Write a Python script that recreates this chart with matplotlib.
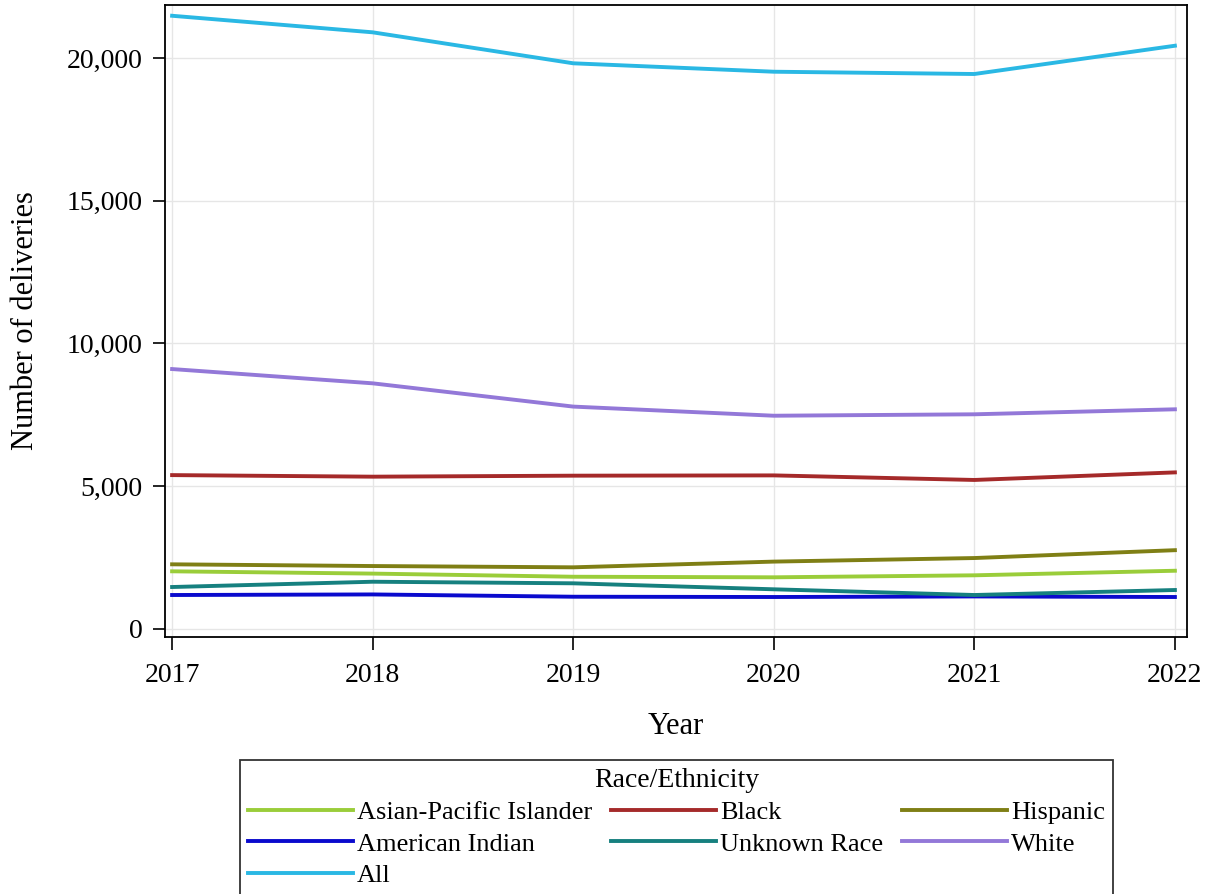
import matplotlib
matplotlib.use("Agg")
import matplotlib.pyplot as plt
from matplotlib.ticker import FuncFormatter

years = [2017, 2018, 2019, 2020, 2021, 2022]

asian_pacific = [2020, 1940, 1830, 1810, 1880, 2040]
black = [5390, 5335, 5370, 5380, 5220, 5485]
hispanic = [2265, 2205, 2160, 2360, 2485, 2760]
american_indian = [1190, 1210, 1130, 1120, 1140, 1120]
unknown_race = [1470, 1655, 1600, 1390, 1190, 1365]
white = [9105, 8605, 7790, 7470, 7520, 7695]
all_races = [21480, 20900, 19815, 19520, 19440, 20430]

series = [
    ("Asian-Pacific Islander", asian_pacific, "#9acd3a"),
    ("Black", black, "#a52a2a"),
    ("Hispanic", hispanic, "#7f7f15"),
    ("American Indian", american_indian, "#0a0acd"),
    ("Unknown Race", unknown_race, "#16807f"),
    ("White", white, "#9378d8"),
    ("All", all_races, "#2ab8e4"),
]

plt.rcParams["font.family"] = ["Liberation Serif", "DejaVu Serif"]

fig = plt.figure(figsize=(12.05, 8.94), dpi=100)
ax = fig.add_axes([0.137, 0.2875, 0.848, 0.707])

lines = {}
for name, vals, col in series:
    lines[name], = ax.plot(years, vals, color=col, lw=2.8, label=name, zorder=3)

ax.set_xlim(2016.965, 2022.06)
ax.set_ylim(-280, 21860)
ax.set_xticks(years)
ax.set_yticks([0, 5000, 10000, 15000, 20000])
ax.yaxis.set_major_formatter(FuncFormatter(lambda v, p: f"{int(v):,}"))
ax.grid(True, color="#e6e6e6", lw=1.0, zorder=0)
ax.tick_params(labelsize=20, length=9, width=1.2, direction="out")
ax.tick_params(axis="x", pad=10)
ax.tick_params(axis="y", pad=7)
for s in ax.spines.values():
    s.set_linewidth(1.3)

ax.set_xlabel("Year", fontsize=22)
ax.set_ylabel("Number of deliveries", fontsize=22)
ax.xaxis.set_label_coords(0.5, -0.118)
ax.yaxis.set_label_coords(-0.122, 0.5)

# legend fills column-wise, so order entries to read across rows
order = ["Asian-Pacific Islander", "American Indian", "All",
         "Black", "Unknown Race", "Hispanic", "White"]
leg = fig.legend([lines[n] for n in order], order,
                 loc="upper center", bbox_to_anchor=(0.5614, 0.150), ncol=3,
                 title="Race/Ethnicity", fontsize=19, title_fontsize=20,
                 frameon=True, fancybox=False, edgecolor="black",
                 handlelength=4.0, handletextpad=0.15, columnspacing=0.7,
                 labelspacing=0.3, borderpad=0.3, borderaxespad=0)
leg.get_frame().set_linewidth(1.3)

fig.savefig("out.png", dpi=100)
